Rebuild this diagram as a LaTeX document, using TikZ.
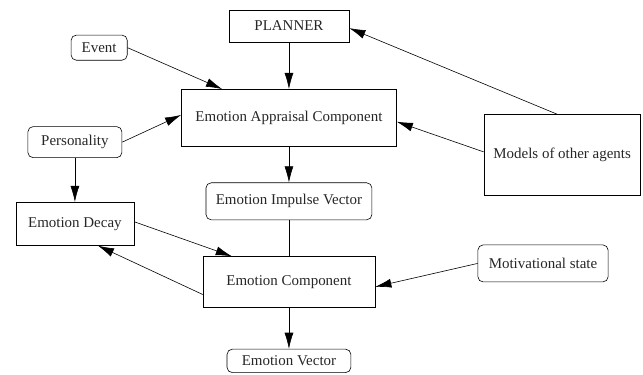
\documentclass[tikz,border=0pt]{standalone}
\usepackage{fontspec}
\setmainfont{Liberation Serif}
\usetikzlibrary{positioning, arrows.meta}
\tikzset{
->, % makes the edges directed
>={Latex[length=3.8mm,width=2.1mm]}, % long filled arrow heads
line width=1.1pt, % a bit heavier than thin
node distance=1.9cm, % centre to centre distance down the middle column
block/.style={draw, rectangle, inner sep=0pt, text=black!85}, % square boxes
rblock/.style={block, rounded corners=3.5pt}, % rounded boxes
}

\begin{document}
\begin{tikzpicture}
        \useasboundingbox (0,0) rectangle (15.11,-8.79);
        \node[block, minimum width=2.82cm, minimum height=0.75cm] (planner) at (6.79,-0.61) {PLANNER};
        \node[block, minimum width=5.05cm, minimum height=1.34cm, node distance=2.16cm, below of=planner] (appraisal) {Emotion Appraisal Component};
        \node[rblock, minimum width=3.9cm, minimum height=0.87cm, node distance=1.96cm, below of=appraisal] (impulse) {Emotion Impulse Vector};
        \node[block, minimum width=4.04cm, minimum height=1.18cm, node distance=1.89cm, below of=impulse] (emocomp) {Emotion Component};
        \node[rblock, minimum width=2.91cm, minimum height=0.55cm, node distance=1.86cm, below of=emocomp] (emovec) {Emotion Vector};
        \node[rblock, minimum width=1.32cm, minimum height=0.59cm] (event) at (2.33,-1.12) {Event};
        \node[rblock, minimum width=2.21cm, minimum height=0.73cm] (personality) at (1.76,-3.34) {Personality};
        \node[block, minimum width=2.77cm, minimum height=1.01cm, node distance=1.92cm, below of=personality] (decay) {Emotion Decay};
        \node[block, minimum width=3.67cm, minimum height=1.9cm] (models) at (13.21,-3.64) {Models of other agents};
        \node[rblock, minimum width=3.06cm, minimum height=0.87cm] (motiv) at (12.76,-6.19) {Motivational state};


        \path (planner.south) edge (appraisal.north)
        (event.east) edge ([xshift=-1.57cm]appraisal.north)
        (personality.east) edge ([yshift=0.07cm]appraisal.west)
        ([xshift=-0.12cm]models.north) edge ([yshift=-0.05cm]planner.east)
        ([yshift=0.07cm]models.west) edge ([yshift=-0.09cm]appraisal.east)
        (appraisal.south) edge (impulse.north)
        (impulse.south) edge[-] (emocomp.north)
        (personality.south) edge (decay.north)
        ([yshift=0.05cm]decay.east) edge ([xshift=-1.34cm]emocomp.north)
        ([yshift=-0.3cm]emocomp.west) edge ([xshift=0.54cm]decay.south)
        (motiv.west) edge ([yshift=-0.12cm]emocomp.east)
        (emocomp.south) edge (emovec.north);
      \end{tikzpicture}
\end{document}
